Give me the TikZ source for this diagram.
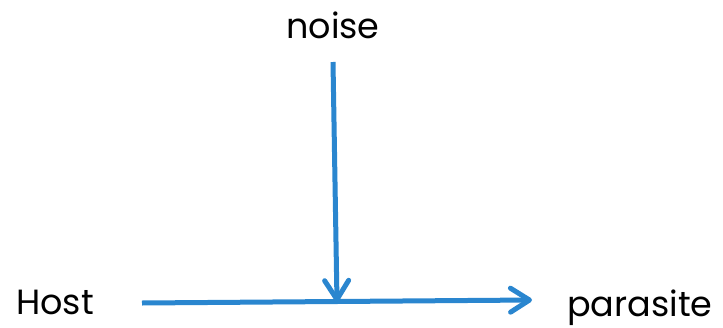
\documentclass[tikz,border=0pt]{standalone}
\usepackage{fontspec}
\setmainfont{Poppins}
\usetikzlibrary{arrows.meta}
\definecolor{arrowblue}{RGB}{42,134,207}
\def\lw{5pt}
\def\tip{Straight Barb[length=19pt,width=24pt,round]}

\begin{document}
\begin{tikzpicture}[x=1pt,y=-1pt,
	label/.style={font=\fontsize{35}{40}\selectfont, inner sep=0pt},
	flow/.style={draw=arrowblue, line width=\lw, -{\tip}}]
\useasboundingbox (0,0) rectangle (723,327);
\node[label] (noise) at (333,25) {noise};
\node[label, anchor=base] (host) at (55,314) {Host};
\node[label, anchor=base] (parasite) at (640,316) {parasite};

\coordinate (hs) at (142,303);
\coordinate (he) at (532,300);
\coordinate (ns) at (333,62);
\coordinate (ne) at (337,302);

\draw[flow] (hs) -- (he);
\draw[flow] (ns) -- (ne);
\end{tikzpicture}
\end{document}
